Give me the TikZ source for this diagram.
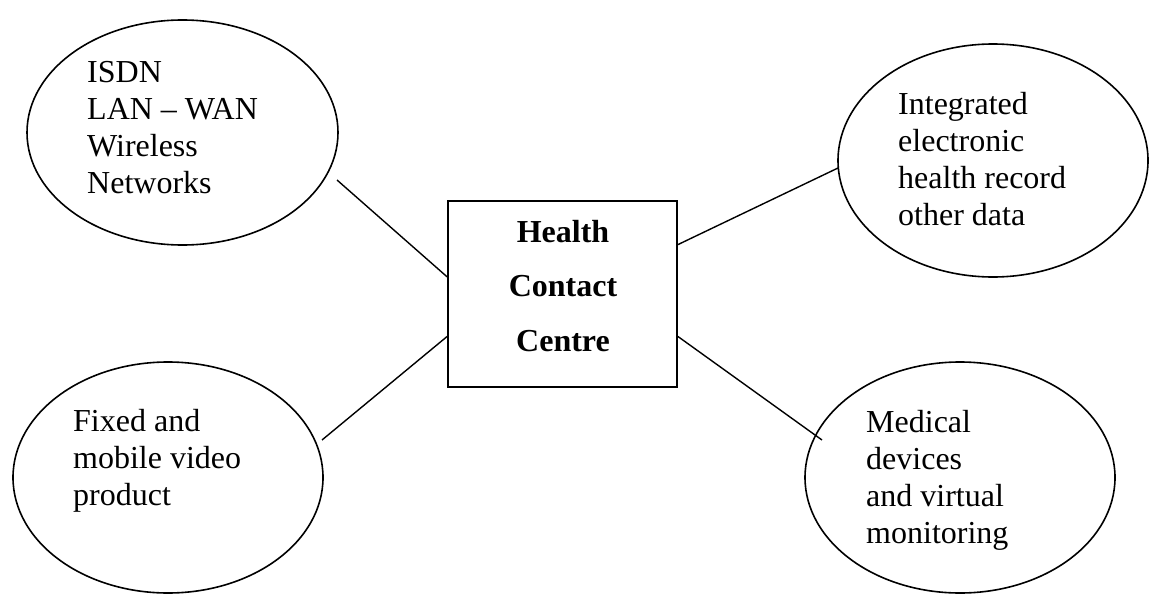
\documentclass[tikz,border=0pt]{standalone}
\usepackage{fontspec}
\setmainfont{Liberation Serif}
\usetikzlibrary{shapes.geometric,calc}
\begin{document}
\begin{tikzpicture}[x=1pt,y=-1pt,
  bubble/.style={draw,ellipse,line width=1.6pt,inner sep=0pt},
  bubbletext/.style={anchor=base west,align=left,inner sep=0pt,
    font=\fontsize{32}{37}\selectfont},
  centrebox/.style={draw,line width=1.6pt,inner sep=0pt,
    minimum width=229pt,minimum height=186pt},
  link/.style={line width=1.4pt}]
  \useasboundingbox (0,0) rectangle (1150,594);
  \fill[white] (0,0) rectangle (1150,594);

  % satellite ellipses
  \node[bubble,minimum width=311pt,minimum height=225pt] (net) at (182.5,132.5) {};
  \node[bubble,minimum width=310pt,minimum height=233pt] (ehr) at (993,160.5) {};
  \node[bubble,minimum width=310pt,minimum height=231pt] (video) at (168,477.5) {};
  \node[bubble,minimum width=310pt,minimum height=231pt] (med) at (960,477.5) {};

  % texts are placed by the baseline of their last line
  \node[bubbletext] (nettxt) at (87,193) {ISDN\\LAN -- WAN\\Wireless\\Networks};
  \node[bubbletext] (ehrtxt) at (898,225) {Integrated\\electronic\\health record\\other data};
  \node[bubbletext] (videotxt) at (73,505) {Fixed and\\mobile video\\product};
  \node[bubbletext] (medtxt) at (866,543) {Medical\\devices\\and virtual\\monitoring};

  % central box
  \node[centrebox] (hcc) at (562.5,294) {};
  \node[anchor=base,align=center,inner sep=0pt,
    font=\fontsize{32}{54.5}\selectfont\bfseries] (hcctxt) at (563,351)
    {Health\\Contact\\Centre};

  % connector end points
  \coordinate (netend) at (337,180);
  \coordinate (ehrend) at (838,168);
  \coordinate (videoend) at (322,440);
  \coordinate (medend) at (822,440);

  \draw[link] (netend) -- ($(hcc.north west)!0.409!(hcc.south west)$);
  \draw[link] (videoend) -- ($(hcc.north west)!0.726!(hcc.south west)$);
  \draw[link] (ehrend) -- ($(hcc.north east)!0.237!(hcc.south east)$);
  \draw[link] (medend) -- ($(hcc.north east)!0.726!(hcc.south east)$);
\end{tikzpicture}
\end{document}
